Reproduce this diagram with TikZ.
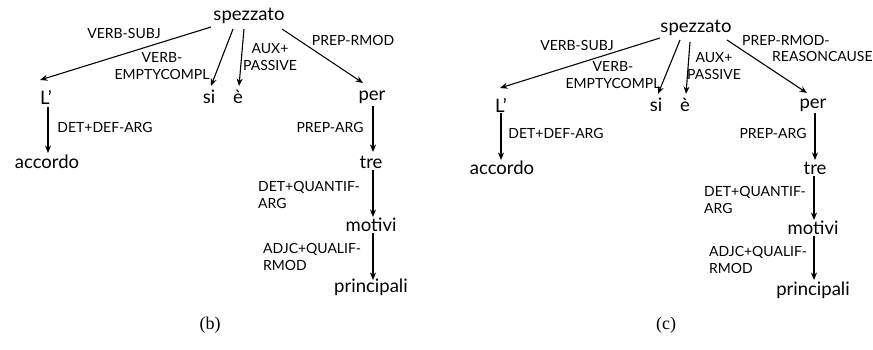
\documentclass[tikz,border=0pt]{standalone}
\usepackage{fontspec}
\setmainfont{Lato}
\newfontfamily\capfont{Liberation Serif}
\usetikzlibrary{arrows.meta}
\begin{document}
\begin{tikzpicture}[x=1pt,y=-1pt,
  word/.style={font=\fontsize{18.5}{18.5}\selectfont, inner sep=0pt},
  lab/.style={font=\fontsize{14}{16.5}\selectfont, inner sep=0pt, align=center},
  labl/.style={lab, align=left, anchor=west},
  dep/.style={-{Stealth[length=7.5pt,width=6pt]}, line width=1.1pt},
  capt/.style={font=\capfont\fontsize{18}{18}\selectfont, inner sep=0pt}]
\useasboundingbox (0,0) rectangle (873,350);
% ---------- (b) ----------
\node[word] (bs) at (249,16) {spezzato};
\node[word] (bL) at (46,97) {L’};
\node[word] (bsi) at (209,97) {si};
\node[word] (be) at (238,97) {è};
\node[word] (bper) at (372,97) {per};
\node[word] (bacc) at (47,162) {accordo};
\node[word] (btre) at (371,162) {tre};
\node[word] (bmot) at (371,225) {motivi};
\node[word] (bpri) at (371,287) {principali};
\draw[dep] ([shift={(-38,11)}]bs.center) -- ([shift={(-6,-17)}]bL.center);
\draw[dep] ([shift={(-16,13)}]bs.center) -- ([shift={(2,-11)}]bsi.center);
\draw[dep] ([shift={(-5,13)}]bs.center) -- ([shift={(1,-11)}]be.center);
\draw[dep] ([shift={(33,13)}]bs.center) -- ([shift={(-9,-14)}]bper.center);
\draw[dep] ([shift={(2,10)}]bL.center) -- ([shift={(1,-9)}]bacc.center);
\draw[dep] ([shift={(1,9)}]bper.center) -- ([shift={(2,-10)}]btre.center);
\draw[dep] ([shift={(2,8)}]btre.center) -- ([shift={(2,-8)}]bmot.center);
\draw[dep] ([shift={(2,8)}]bmot.center) -- ([shift={(2,-7)}]bpri.center);
\node[lab] (bl1) at (124,33) {VERB-SUBJ};
\node[lab] (bl2) at (162,66) {VERB-\\EMPTYCOMPL};
\node[lab] (bl3) at (270,57) {AUX+\\PASSIVE};
\node[lab] (bl4) at (353,40) {PREP-RMOD};
\node[lab] (bl5) at (105,127) {DET+DEF-ARG};
\node[lab] (bl6) at (330,127) {PREP-ARG};
\node[labl] (bl7) at (258,195) {DET+QUANTIF-\\ARG};
\node[labl] (bl8) at (263,257) {ADJC+QUALIF-\\RMOD};
\node[capt] (bcap) at (210,325) {(b)};
% ---------- (c) ----------
\node[word] (cs) at (696,28) {spezzato};
\node[word] (cL) at (501,105) {L’};
\node[word] (csi) at (656,105) {si};
\node[word] (ce) at (685,105) {è};
\node[word] (cper) at (813,105) {per};
\node[word] (cacc) at (502,168) {accordo};
\node[word] (ctre) at (815,168) {tre};
\node[word] (cmot) at (813,228) {motivi};
\node[word] (cpri) at (813,290) {principali};
\draw[dep] ([shift={(-36,10)}]cs.center) -- ([shift={(-1,-17)}]cL.center);
\draw[dep] ([shift={(-16,12)}]cs.center) -- ([shift={(2,-11)}]csi.center);
\draw[dep] ([shift={(-6,14)}]cs.center) -- ([shift={(1,-11)}]ce.center);
\draw[dep] ([shift={(31,12)}]cs.center) -- ([shift={(-6,-12)}]cper.center);
\draw[dep] ([shift={(0,8)}]cL.center) -- ([shift={(-1,-8)}]cacc.center);
\draw[dep] ([shift={(2,8)}]cper.center) -- ([shift={(0,-8)}]ctre.center);
\draw[dep] ([shift={(-1,8)}]ctre.center) -- ([shift={(1,-8)}]cmot.center);
\draw[dep] ([shift={(1,8)}]cmot.center) -- ([shift={(1,-10)}]cpri.center);
\node[lab] (cl1) at (577,45) {VERB-SUBJ};
\node[lab] (cl2) at (613,75) {VERB-\\EMPTYCOMPL};
\node[lab] (cl3) at (714,66) {AUX+\\PASSIVE};
\node[lab, align=left, anchor=north west] (cl4) at (742,35) {PREP-RMOD-\\\hspace*{30pt}REASONCAUSE};
\node[lab] (cl5) at (556,133) {DET+DEF-ARG};
\node[lab] (cl6) at (773,133) {PREP-ARG};
\node[labl] (cl7) at (704,200) {DET+QUANTIF-\\ARG};
\node[labl] (cl8) at (709,260) {ADJC+QUALIF-\\RMOD};
\node[capt] (ccap) at (666,325) {(c)};
\end{tikzpicture}
\end{document}
